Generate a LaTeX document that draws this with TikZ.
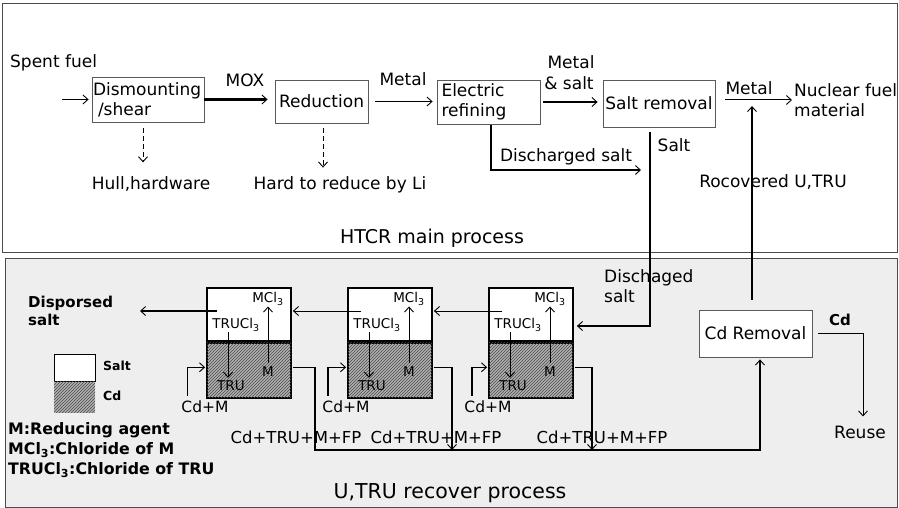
\documentclass[tikz,border=0pt]{standalone}
\usepackage{fontspec}
\setmainfont{DejaVu Sans}
\usetikzlibrary{arrows.meta,patterns}
\begin{document}
\begin{tikzpicture}[x=1pt,y=-1pt,
  >={Straight Barb[length=5pt,width=9pt,line width=0.9pt]},
  every node/.style={inner sep=0pt},
  f16/.style={font=\fontsize{17}{20}\selectfont},
  f15/.style={font=\fontsize{15.5}{19}\selectfont},
  f13/.style={font=\fontsize{13.5}{15}\selectfont},
  f15b/.style={font=\bfseries\fontsize{15}{18}\selectfont},
  flg/.style={font=\bfseries\fontsize{15.8}{18}\selectfont},
  f13b/.style={font=\bfseries\fontsize{12.5}{15}\selectfont},
  pbox/.style={draw=gray!70!black, line width=0.8pt, fill=white, f16},
  saltpart/.style={draw=black, line width=1.8pt, fill=white, minimum width=84pt, minimum height=53pt},
  cdpart/.style={draw=black, line width=1.8pt, fill=gray!62, postaction={pattern=north east lines, pattern color=black!70}, minimum width=84pt, minimum height=55pt},
  arr/.style={->, line width=1pt},
  thickarr/.style={->, line width=2.4pt},
  dasharr/.style={->, line width=1pt, dash pattern=on 5pt off 3pt}
]
\useasboundingbox (0,0) rectangle (899,508);
% panels
\draw[line width=0.8pt, draw=gray!60!black] (2,3) rectangle (897,252);
\draw[line width=0.8pt, draw=gray!60!black, fill=gray!13] (5,258) rectangle (897,507);

% ---------- top process ----------
\node[f16, anchor=west] (sf) at (10,63) {Spent fuel};
\coordinate (sfin) at (62,99.5);
\node[pbox, minimum width=112pt, minimum height=45pt, text width=110pt, align=left] (dis) at (148,99.5) {Dismounting\\\hspace*{5pt}/shear};
\node[pbox, minimum width=93pt, minimum height=43pt] (red) at (321.5,101.5) {Reduction};
\node[pbox, minimum width=103pt, minimum height=44pt, text width=94pt, align=left] (ele) at (488.5,102) {Electric\\refining};
\node[pbox, minimum width=112pt, minimum height=47pt] (sal) at (659,103.5) {Salt removal};
\node[f16, align=left, anchor=west] (nfm) at (794,100) {Nuclear fuel\\material};

\node[f16] (lmox) at (245,80) {MOX};
\node[f16] (lmet1) at (403,79) {Metal};
\node[f16] (lms1) at (571,62) {Metal};
\node[f16] (lms2) at (569,83) {\& salt};
\node[f16] (lmet2) at (749,88) {Metal};
\node[f16] (hull) at (151,184) {Hull,hardware};
\node[f16] (hard) at (340,185) {Hard to reduce by Li};
\node[f16] (ldis) at (566,157) {Discharged salt};
\node[f16] (lsalt) at (674,145) {Salt};
\node[f16] (lrec) at (773,182) {Rocovered U,TRU};
\node[font=\fontsize{19}{22}\selectfont] (htcr) at (432,238) {HTCR main process};

\draw[arr, shorten >=3pt] (sfin) -- (dis.west);
\draw[thickarr, shorten >=7pt] (dis.east) -- (dis.east -| red.west);
\draw[arr, shorten <=7pt, shorten >=4pt] (red.east) -- (red.east -| ele.west);
\draw[thickarr, shorten <=3pt, shorten >=5pt] (ele.east) -- (ele.east -| sal.west);
\draw[arr, shorten <=10pt, shorten >=2pt] (sal.east |- nfm.west) -- (nfm.west);
\draw[dasharr, shorten <=6pt, shorten >=14pt] ([xshift=-5pt]dis.south) -- ([xshift=-5pt]dis.south |- hull.north);
\draw[dasharr, shorten <=5pt, shorten >=9pt] ([xshift=1.5pt]red.south) -- ([xshift=1.5pt]red.south |- hard.north);
\coordinate (dsend) at (641,170);
\draw[thickarr, shorten <=1pt] ([xshift=2.5pt]ele.south) |- (dsend);

% ---------- bottom process ----------
\foreach \i/\L in {1/207, 2/348, 3/489} {
  \node[saltpart] (s\i) at ({\L+42},314.5) {};
  \node[cdpart, anchor=north] (c\i) at (s\i.south) {};
  \node[f13] (mcl\i) at ({\L+61},299) {MCl\textsubscript{3}};
  \node[f13] (tcl\i) at ({\L+29},325) {TRUCl\textsubscript{3}};
  \node[f13] (tru\i) at ({\L+24},386) {TRU};
  \node[f13] (m\i) at ({\L+61},372) {M};
  \draw[arr, shorten <=1pt, shorten >=3pt] ([xshift=-8pt]tcl\i.south) -- ([xshift=-8pt]tcl\i.south |- tru\i.north);
  \draw[arr, shorten <=4pt, shorten >=1pt] (m\i.north) -- (m\i.north |- mcl\i.south);
}
\node[f15] (cm1) at (205,407) {Cd+M};
\node[f15] (cm2) at (346,407) {Cd+M};
\node[f15] (cm3) at (488,407) {Cd+M};
\node[font=\fontsize{16.5}{19}\selectfont] (fp1) at (296,437) {Cd+TRU+M+FP};
\node[font=\fontsize{16.5}{19}\selectfont] (fp2) at (436,437) {Cd+TRU+M+FP};
\node[font=\fontsize{16.5}{19}\selectfont] (fp3) at (602,437) {Cd+TRU+M+FP};
\node[f15b, align=left, anchor=west] (dsp) at (28,311) {Disporsed\\salt};
\node[f16, align=left, anchor=west] (ldsc) at (604,286) {Dischaged\\salt};
\node[pbox, minimum width=113pt, minimum height=47pt] (cdr) at (755.5,333.5) {Cd Removal};
\node[f15b] (lcd) at (840,320) {Cd};
\node[f16] (reuse) at (860,432) {Reuse};
\node[font=\fontsize{20.5}{24}\selectfont] (utru) at (450,493) {U,TRU recover process};

% legend
\node[draw=black, line width=0.6pt, fill=white, minimum width=41pt, minimum height=27pt] (lgs) at (74.5,367.5) {};
\node[fill=gray!62, postaction={pattern=north east lines, pattern color=black!70}, minimum width=41pt, minimum height=31pt, anchor=north] (lgc) at (lgs.south) {};
\node[f13b, anchor=west] (lgst) at (103,366) {Salt};
\node[f13b, anchor=west] (lgct) at (103,396) {Cd};
\node[flg, anchor=west] (lg1) at (8,430) {M:Reducing agent};
\node[flg, anchor=west] (lg2) at (8,450) {MCl\textsubscript{3}:Chloride of M};
\node[flg, anchor=west] (lg3) at (8,470) {TRUCl\textsubscript{3}:Chloride of TRU};

% salt flows
\draw[thickarr, shorten <=5pt, shorten >=3pt] ([xshift=-9pt]sal.south) |- ([yshift=-11.5pt]s3.east);
\draw[arr, shorten >=1pt] ([xshift=14pt,yshift=3.5pt]s3.west) -- ([yshift=3.5pt]s2.east);
\draw[arr, shorten >=1pt] ([xshift=14pt,yshift=3.5pt]s2.west) -- ([yshift=3.5pt]s1.east);
\coordinate (dspout) at (140,311);
\draw[thickarr] ([xshift=11pt,yshift=3.5pt]s1.west) -- (dspout);

% Cd flows
\draw[arr, shorten <=5pt, shorten >=1pt] ([xshift=-18pt]cm1.north) |- ([yshift=3pt]c1.west);
\draw[arr, line width=1.4pt, shorten <=5pt, shorten >=1pt] ([xshift=-18pt]cm2.north) |- ([yshift=3pt]c2.west);
\draw[arr, line width=1.4pt, shorten <=5pt, shorten >=1pt] ([xshift=-16pt]cm3.north) |- ([yshift=3pt]c3.west);
\coordinate (b1) at (315,450);
\coordinate (b2) at (452,450);
\coordinate (b3) at (592,450);
\draw[arr, line width=1.3pt, shorten <=1pt, shorten >=2pt] ([yshift=3pt]c1.east) -| (b1) -| ([xshift=4.5pt]cdr.south);
\draw[arr, line width=1.3pt, shorten <=1pt] ([yshift=3pt]c2.east) -| (b2);
\draw[arr, line width=1.3pt, shorten <=1pt] ([yshift=3pt]c3.east) -| (b3);

% recovered and Cd out
\coordinate (rec) at (752,106);
\draw[thickarr] ([xshift=-3.5pt,yshift=10pt]cdr.north) -- (rec);
\draw[arr, shorten <=6pt, shorten >=9pt] (cdr.east) -| ([xshift=3pt]reuse.north);
\end{tikzpicture}
\end{document}
